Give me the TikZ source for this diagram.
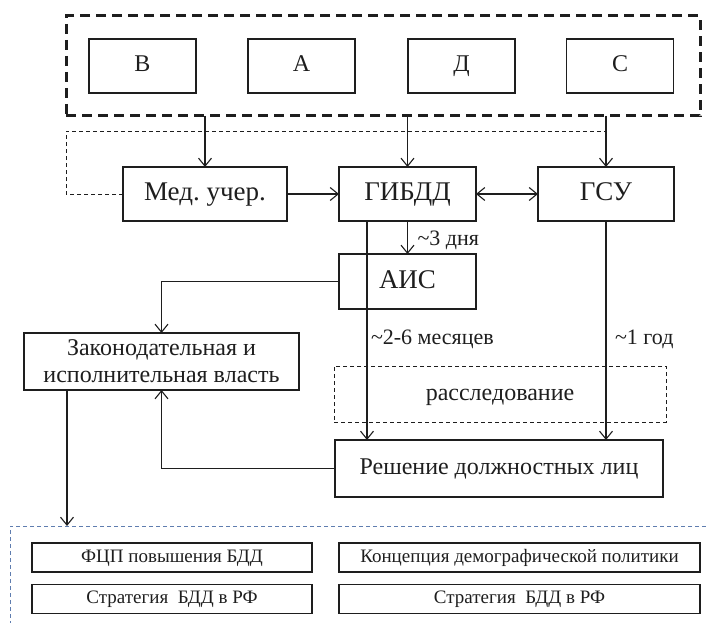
\documentclass[tikz,border=0pt]{standalone}
\usepackage{fontspec}
\setmainfont{Liberation Serif}
\usetikzlibrary{arrows.meta,calc}
\definecolor{ink}{RGB}{30,30,30}
\definecolor{frameblue}{RGB}{95,125,175}
\frenchspacing
\begin{document}
\begin{tikzpicture}[x=1pt,y=-1pt,
  every node/.style={inner sep=0pt,outer sep=0pt,text=ink},
  box/.style={draw=ink,line width=1.3pt,rectangle,align=center},
  bigbox/.style={box,text height=19pt,text depth=5.5pt,font=\fontsize{27}{30}\selectfont},
  letterbox/.style={box,text height=17pt,text depth=5pt,minimum width=107pt,minimum height=54pt,font=\fontsize{24}{28}\selectfont},
  smallbox/.style={box,text height=13.5pt,text depth=4pt,line width=1.1pt,minimum height=29pt,font=\fontsize{19}{21}\selectfont},
  midtext/.style={text height=17pt,text depth=5pt,font=\fontsize{24}{26}\selectfont},
  arr/.style={draw=ink,line width=1.1pt,-{Straight Barb[length=8pt,width=13pt,line width=1.1pt]}},
  dblarr/.style={draw=ink,line width=1.1pt,{Straight Barb[length=8pt,width=13pt,line width=1.1pt]}-{Straight Barb[length=8pt,width=13pt,line width=1.1pt]}},
  lbl/.style={font=\fontsize{22}{24}\selectfont,anchor=west},
  thindash/.style={draw=ink,line width=1pt,dash pattern=on 4pt off 3pt},
]
\useasboundingbox (0,0) rectangle (706,623);

% top group of four factors
\node[draw=ink,line width=3pt,dash pattern=on 10pt off 6pt,minimum width=634pt,minimum height=100pt] (grp) at (383,66) {};
\node[letterbox] (v) at (142.5,66) {В};
\node[letterbox] (a) at (301.5,66) {А};
\node[letterbox] (d) at (461.5,66) {Д};
\node[letterbox] (s) at (620,66) {С};

% services
\node[bigbox,minimum width=164pt,minimum height=54pt] (med) at (205,194) {Мед. учер.};
\node[bigbox,minimum width=137pt,minimum height=54pt] (gibdd) at (407.5,194) {ГИБДД};
\node[bigbox,minimum width=136pt,minimum height=54pt] (gsu) at (606,194) {ГСУ};
\node[bigbox,minimum width=137pt,minimum height=55pt] (ais) at (407.5,281.5) {АИС};

\node[box,minimum width=275pt,minimum height=57pt,font=\fontsize{24}{27}\selectfont] (zak) at (161.5,361.5) {Законодательная и\\исполнительная власть};
\node[midtext,draw=ink,line width=1pt,dash pattern=on 4pt off 3pt,minimum width=332pt,minimum height=56pt] (rassl) at (500,394) {расследование};
\node[box,midtext,minimum width=328pt,minimum height=57pt] (resh) at (499,468.5) {Решение должностных лиц};

% programme documents
\draw[frameblue,line width=1pt,dash pattern=on 4pt off 3pt] (706,526) -- (10,526) -- (10,623);
\node[smallbox,minimum width=280pt] (fcp) at (172,557.5) {ФЦП повышения БДД};
\node[smallbox,minimum width=361pt] (konc) at (519.5,557.5) {Концепция демографической политики};
\node[smallbox,minimum width=280pt] (str1) at (172,599) {Стратегия\ \ БДД в РФ};
\node[smallbox,minimum width=361pt] (str2) at (519.5,599) {Стратегия\ \ БДД в РФ};

% connectors
\draw[arr] (grp.south -| med) -- (med);
\draw[arr] (grp.south -| gibdd) -- (gibdd);
\draw[arr] (grp.south -| gsu) -- (gsu);

\coordinate (fb) at (606,131);
\draw[thindash] (med.west) -- (grp.west |- med.west) -- (grp.west |- fb) -- (fb);

\draw[arr] (med) -- (gibdd);
\draw[dblarr] (gibdd) -- (gsu);

\draw[arr] (gibdd) -- node[lbl,xshift=10pt,yshift=-3pt] {\textasciitilde3 дня} (ais);

\coordinate (gl) at ($(gibdd.south west)+(28,0)$);
\draw[arr] (gl) -- (gl |- resh.north);
\node[lbl] (lm) at ($(gl)+(4,118)$) {\textasciitilde2-6 месяцев};

\draw[arr] (gsu.south) -- (gsu.south |- resh.north);
\node[lbl] (ly) at ($(gsu.south)+(9,118)$) {\textasciitilde1 год};

\draw[arr] (ais.west) -| (zak.north);
\draw[arr] (resh.west) -| (zak.south);

\coordinate (bt) at (67,526);
\draw[arr] (zak.south -| bt) -- (bt);
\end{tikzpicture}
\end{document}
